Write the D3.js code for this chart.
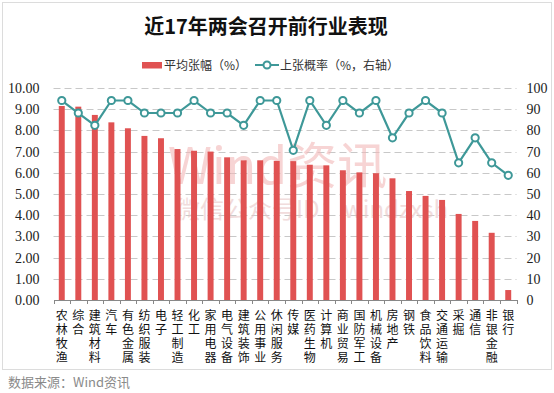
<html>
<head>
<meta charset="utf-8">
<script src="https://d3js.org/d3.v7.min.js"></script>
<style>
  body { margin: 0; background: #fff; }
</style>
</head>
<body>
<div id="chart"></div>
<script>

// industries, in the order shown
var categories = ["农林牧渔","综合","建筑材料","汽车","有色金属","纺织服装","电子","轻工制造","化工","家用电器",
  "电气设备","建筑装饰","公用事业","休闲服务","传媒","医药生物","计算机","商业贸易","国防军工","机械设备",
  "房地产","钢铁","食品饮料","交通运输","采掘","通信","非银金融","银行"];

// average gain (%), left axis
var avgGain = [9.15,9.12,8.73,8.38,8.10,7.74,7.63,7.12,7.04,7.00,
  6.73,6.59,6.59,6.56,6.55,6.38,6.35,6.12,6.02,5.98,
  5.74,5.14,4.91,4.72,4.06,3.73,3.17,0.47];

// rise probability (%), right axis
var upProb = [94.1,88.2,82.4,94.1,94.1,88.2,88.2,88.2,94.1,88.2,
  88.2,82.4,94.1,94.1,70.6,94.1,82.4,94.1,88.2,94.1,
  76.5,88.2,94.1,88.2,64.7,76.5,64.7,58.8];

var leftTicks = [0,1,2,3,4,5,6,7,8,9,10];
var rightTicks = [0,10,20,30,40,50,60,70,80,90,100];

var W = 554, H = 393;
var plotL = 53.5, plotR = 516.5, plotT = 88, plotB = 300;

var svg = d3.select("#chart").append("svg")
  .attr("width", W).attr("height", H);

// outer frame
svg.append("rect")
  .attr("x", 2.5).attr("y", 2.5).attr("width", 549).attr("height", 367)
  .attr("fill", "#fff").attr("stroke", "#dcdcdc");

// title
svg.append("text")
  .attr("x", 266).attr("y", 34)
  .attr("text-anchor", "middle")
  .style("font-family", "'Noto Sans CJK SC'")
  .style("font-weight", "bold")
  .style("font-size", "20px")
  .attr("fill", "#111")
  .text("近17年两会召开前行业表现");

var x = d3.scaleBand().domain(categories).range([plotL, plotR]).paddingInner(0.64).paddingOuter(0.32);
var xb = d3.scaleBand().domain(categories).range([plotL, plotR]);
var y = d3.scaleLinear().domain([0, 10]).range([plotB, plotT]);
var y2 = d3.scaleLinear().domain([0, 100]).range([plotB, plotT]);

// gridlines
svg.append("g").selectAll("line")
  .data(leftTicks.slice(1))
  .enter().append("line")
  .attr("x1", plotL).attr("x2", plotR)
  .attr("y1", function(d){ return Math.round(y(d)) + 0.5; })
  .attr("y2", function(d){ return Math.round(y(d)) + 0.5; })
  .attr("stroke", "#c8c8c8")
  .attr("stroke-dasharray", "7,4");

// watermark
svg.append("text")
  .attr("x", 168).attr("y", 184)
  .style("font-family", "'Noto Sans CJK SC'")
  .style("font-size", "50px")
  .attr("fill", "#f2b8b8").attr("opacity", 0.6)
  .text("Wind资讯");
svg.append("text")
  .attr("x", 176).attr("y", 218)
  .style("font-family", "'Noto Sans CJK SC'")
  .style("font-size", "24px")
  .attr("fill", "#e9c6c6").attr("opacity", 0.6)
  .text("微信公众号ID：windzxsh");

// bars
svg.append("g").selectAll("rect")
  .data(avgGain)
  .enter().append("rect")
  .attr("x", function(d, i){ return x(categories[i]); })
  .attr("width", x.bandwidth())
  .attr("y", function(d){ return y(d); })
  .attr("height", function(d){ return plotB - y(d); })
  .attr("fill", "#e05252");

// line + markers
var line = d3.line()
  .x(function(d, i){ return xb(categories[i]) + xb.bandwidth() / 2; })
  .y(function(d){ return y2(d); });

svg.append("path")
  .datum(upProb)
  .attr("d", line)
  .attr("fill", "none")
  .attr("stroke", "#3e9898")
  .attr("stroke-width", 2.2);

svg.append("g").selectAll("circle")
  .data(upProb)
  .enter().append("circle")
  .attr("cx", function(d, i){ return xb(categories[i]) + xb.bandwidth() / 2; })
  .attr("cy", function(d){ return y2(d); })
  .attr("r", 3.6)
  .attr("fill", "#fff")
  .attr("stroke", "#3e9898")
  .attr("stroke-width", 2);

// x axis
var xAxis = svg.append("g")
  .attr("transform", "translate(0," + plotB + ")")
  .call(d3.axisBottom(xb).tickSize(0).tickFormat(""));
xAxis.select(".domain").attr("stroke", "#888");
xAxis.selectAll(".tickmark")
  .data(d3.range(categories.length + 1))
  .enter().append("line")
  .attr("x1", function(i){ return Math.round(plotL + i * xb.step()) + 0.5; })
  .attr("x2", function(i){ return Math.round(plotL + i * xb.step()) + 0.5; })
  .attr("y1", 0).attr("y2", 4)
  .attr("stroke", "#888");

// vertical category labels, one character per line
var catG = svg.append("g")
  .style("font-family", "'Noto Sans CJK SC'")
  .style("font-size", "12px")
  .attr("fill", "#111");
categories.forEach(function(c){
  c.split("").forEach(function(ch, k){
    catG.append("text")
      .attr("text-anchor", "middle")
      .attr("x", xb(c) + xb.bandwidth() / 2)
      .attr("y", 320 + k * 14)
      .text(ch);
  });
});

// left axis
var yAxis = svg.append("g")
  .attr("transform", "translate(" + plotL + ",0)")
  .call(d3.axisLeft(y).tickValues(leftTicks).tickSize(0).tickPadding(14)
    .tickFormat(d3.format(".2f")));
yAxis.select(".domain").remove();
yAxis.selectAll("text")
  .style("font-family", "'Liberation Serif'")
  .style("font-size", "14px")
  .attr("fill", "#222");

// right axis
var yAxis2 = svg.append("g")
  .attr("transform", "translate(" + plotR + ",0)")
  .call(d3.axisRight(y2).tickValues(rightTicks).tickSize(0).tickPadding(10));
yAxis2.select(".domain").remove();
yAxis2.selectAll("text")
  .style("font-family", "'Liberation Serif'")
  .style("font-size", "14px")
  .attr("fill", "#222");

// legend
var lg = svg.append("g")
  .style("font-family", "'Noto Sans CJK SC'")
  .style("font-size", "12px")
  .attr("fill", "#333");
lg.append("rect").attr("x", 142).attr("y", 62).attr("width", 20).attr("height", 6.5).attr("fill", "#e05252");
lg.append("text").attr("x", 164).attr("y", 69.5).text("平均张幅（%）");
lg.append("line").attr("x1", 255).attr("x2", 279).attr("y1", 65).attr("y2", 65)
  .attr("stroke", "#3e9898").attr("stroke-width", 2);
lg.append("circle").attr("cx", 267).attr("cy", 65).attr("r", 3.5)
  .attr("fill", "#fff").attr("stroke", "#3e9898").attr("stroke-width", 2);
lg.append("text").attr("x", 280).attr("y", 69.5).text("上张概率（%，右轴）");

// source
svg.append("text")
  .attr("x", 8).attr("y", 387)
  .style("font-family", "'Noto Sans CJK SC'")
  .style("font-size", "13px")
  .attr("fill", "#8a8a8a")
  .text("数据来源：Wind资讯");

</script>
</body>
</html>
